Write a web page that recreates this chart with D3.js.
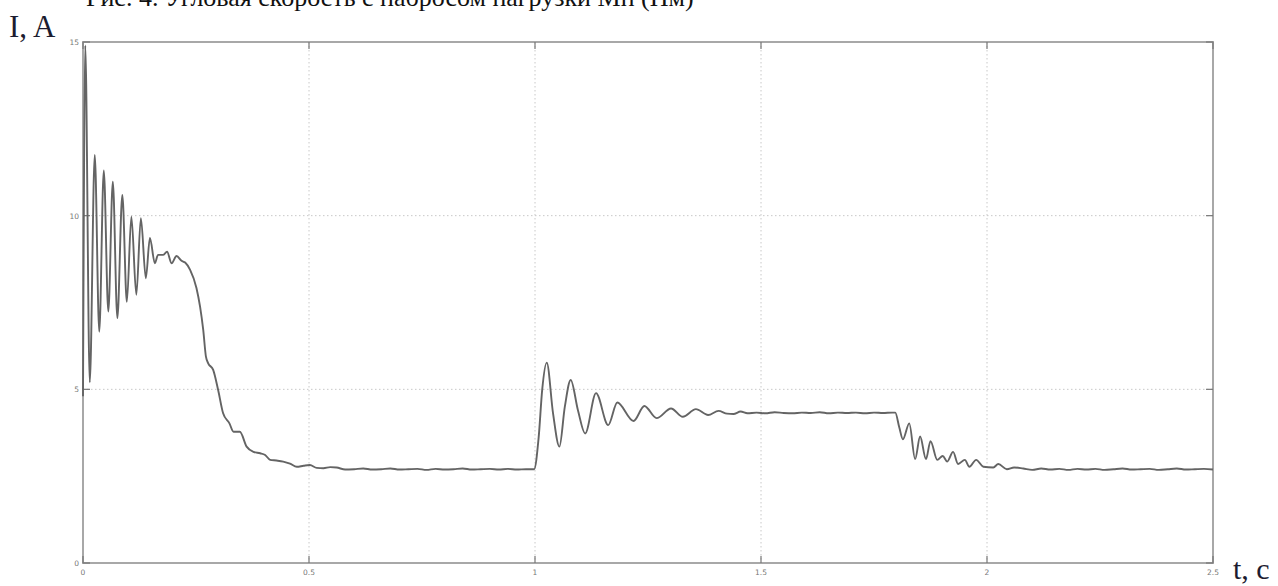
<!DOCTYPE html>
<html>
<head>
<meta charset="utf-8">
<script src="https://cdn.jsdelivr.net/npm/d3@7/dist/d3.min.js"></script>
<style>
  html, body { margin: 0; padding: 0; background: #fff; }
  svg { display: block; }
</style>
</head>
<body>
<svg id="chart" width="1278" height="586"></svg>
<script>
// Motor current transient: start-up, load step at t = 1 s, load release at t ≈ 1.8 s
const time = [
  0.000, 0.005, 0.015, 0.026, 0.036, 0.046, 0.056, 0.066, 0.076, 0.087,
  0.097, 0.107, 0.118, 0.128, 0.139, 0.148, 0.159, 0.166, 0.177, 0.186,
  0.196, 0.207, 0.218, 0.226, 0.237, 0.251, 0.259, 0.266, 0.272, 0.277,
  0.288, 0.299, 0.310, 0.324, 0.333, 0.347, 0.362, 0.377, 0.392, 0.403,
  0.414, 0.428, 0.443, 0.458, 0.473, 0.488, 0.502, 0.517, 0.532, 0.547,
  0.561, 0.580, 0.600, 0.620, 0.640, 0.660, 0.680, 0.700, 0.720, 0.740,
  0.760, 0.780, 0.800, 0.820, 0.840, 0.860, 0.880, 0.900, 0.920, 0.940,
  0.960, 0.980, 0.998, 1.008, 1.016, 1.026, 1.040, 1.054, 1.066, 1.079,
  1.095, 1.111, 1.135, 1.162, 1.182, 1.218, 1.242, 1.269, 1.301, 1.327,
  1.356, 1.383, 1.406, 1.425, 1.439, 1.455, 1.470, 1.490, 1.510, 1.530,
  1.550, 1.570, 1.590, 1.610, 1.630, 1.650, 1.670, 1.690, 1.710, 1.730,
  1.750, 1.770, 1.790, 1.797, 1.806, 1.814, 1.828, 1.841, 1.852, 1.865,
  1.875, 1.890, 1.902, 1.912, 1.925, 1.936, 1.951, 1.961, 1.976, 1.992,
  2.014, 2.025, 2.044, 2.060, 2.080, 2.100, 2.120, 2.140, 2.160, 2.180,
  2.200, 2.220, 2.240, 2.260, 2.280, 2.300, 2.320, 2.340, 2.360, 2.380,
  2.400, 2.420, 2.440, 2.460, 2.480, 2.500
];
const current = [
  4.80, 14.90, 5.20, 11.75, 6.66, 11.30, 7.24, 10.98, 7.05, 10.60,
  7.52, 9.97, 7.72, 9.93, 8.20, 9.36, 8.63, 8.87, 8.87, 8.96,
  8.63, 8.84, 8.70, 8.65, 8.44, 7.92, 7.38, 6.71, 5.94, 5.75,
  5.56, 4.98, 4.31, 4.02, 3.78, 3.78, 3.35, 3.20, 3.16, 3.11,
  2.97, 2.95, 2.92, 2.86, 2.77, 2.80, 2.82, 2.74, 2.73, 2.76,
  2.75, 2.69, 2.70, 2.72, 2.69, 2.70, 2.72, 2.69, 2.70, 2.71,
  2.68, 2.71, 2.69, 2.70, 2.72, 2.69, 2.70, 2.71, 2.69, 2.71,
  2.69, 2.70, 2.70, 3.60, 5.00, 5.77, 4.30, 3.35, 4.50, 5.27,
  4.40, 3.73, 4.89, 3.97, 4.62, 4.09, 4.52, 4.17, 4.45, 4.21,
  4.43, 4.26, 4.38, 4.30, 4.29, 4.36, 4.31, 4.33, 4.31, 4.34,
  4.32, 4.31, 4.33, 4.32, 4.34, 4.31, 4.33, 4.32, 4.33, 4.31,
  4.33, 4.32, 4.33, 4.33, 3.90, 3.56, 4.02, 2.99, 3.64, 2.99,
  3.51, 2.97, 3.08, 2.92, 3.20, 2.85, 2.97, 2.77, 2.97, 2.77,
  2.75, 2.85, 2.70, 2.75, 2.72, 2.68, 2.72, 2.69, 2.71, 2.68,
  2.71, 2.69, 2.71, 2.68, 2.70, 2.72, 2.69, 2.70, 2.71, 2.68,
  2.70, 2.72, 2.69, 2.70, 2.71, 2.69
];
const xTicks = [0, 0.5, 1, 1.5, 2, 2.5];
const xTickLabels = ["0", "0.5", "1", "1.5", "2", "2.5"];
const yTicks = [0, 5, 10, 15];
const yTickLabels = ["0", "5", "10", "15"];
const caption = "Рис. 4. Угловая скорость с набросом нагрузки Мн (Нм)";
const yTitle = "I, A";
const xTitle = "t, c";

const svg = d3.select("#chart");
const plot = { left: 83, top: 42, right: 1213, bottom: 563 };

const x = d3.scaleLinear().domain([0, 2.5]).range([plot.left, plot.right]);
const y = d3.scaleLinear().domain([0, 15]).range([plot.bottom, plot.top]);

const serif = "'Liberation Serif', 'Times New Roman', serif";

// caption of the preceding figure, running off the top edge of the page
svg.append("text")
  .attr("x", 86).attr("y", 6)
  .attr("font-family", serif)
  .attr("font-size", 26)
  .attr("fill", "#111")
  .text(caption);

// dotted grid
const grid = svg.append("g").attr("stroke", "#c8c8c8").attr("stroke-width", 1)
  .attr("stroke-dasharray", "1.5,2.5");
grid.selectAll("line.gx").data(xTicks.filter(d => d > 0 && d < 2.5)).join("line")
  .attr("x1", d => x(d)).attr("x2", d => x(d))
  .attr("y1", plot.top).attr("y2", plot.bottom);
grid.selectAll("line.gy").data(yTicks.filter(d => d > 0 && d < 15)).join("line")
  .attr("x1", plot.left).attr("x2", plot.right)
  .attr("y1", d => y(d)).attr("y2", d => y(d));

// frame
svg.append("rect")
  .attr("x", plot.left).attr("y", plot.top)
  .attr("width", plot.right - plot.left).attr("height", plot.bottom - plot.top)
  .attr("fill", "none").attr("stroke", "#a8a8a8").attr("stroke-width", 2);

// inward tick marks on all four sides
const tickLen = 7;
const ticks = svg.append("g").attr("stroke", "#777").attr("stroke-width", 1.2);
xTicks.forEach(d => {
  ticks.append("line").attr("x1", x(d)).attr("x2", x(d))
    .attr("y1", plot.bottom).attr("y2", plot.bottom - tickLen);
  ticks.append("line").attr("x1", x(d)).attr("x2", x(d))
    .attr("y1", plot.top).attr("y2", plot.top + tickLen);
});
yTicks.forEach(d => {
  ticks.append("line").attr("x1", plot.left).attr("x2", plot.left + tickLen)
    .attr("y1", y(d)).attr("y2", y(d));
  ticks.append("line").attr("x1", plot.right).attr("x2", plot.right - tickLen)
    .attr("y1", y(d)).attr("y2", y(d));
});

// tick labels
const tickFont = "'DejaVu Sans', Arial, sans-serif";
svg.append("g").selectAll("text").data(xTicks).join("text")
  .attr("x", d => x(d)).attr("y", plot.bottom + 12)
  .attr("text-anchor", "middle")
  .attr("font-family", tickFont).attr("font-size", 7.5).attr("fill", "#777")
  .text((d, i) => xTickLabels[i]);
svg.append("g").selectAll("text").data(yTicks).join("text")
  .attr("x", plot.left - 4).attr("y", d => y(d) + 3)
  .attr("text-anchor", "end")
  .attr("font-family", tickFont).attr("font-size", 7.5).attr("fill", "#777")
  .text((d, i) => yTickLabels[i]);

// axis titles
svg.append("text")
  .attr("x", 9).attr("y", 37)
  .attr("font-family", serif)
  .attr("font-size", 31).attr("fill", "#1c1c30")
  .text(yTitle);
svg.append("text")
  .attr("x", 1233).attr("y", 579)
  .attr("font-family", serif)
  .attr("font-size", 30).attr("fill", "#1c1c30")
  .text(xTitle);

// current curve
const points = time.map((t, i) => [t, current[i]]);
const line = d3.line()
  .x(d => x(d[0])).y(d => y(d[1]))
  .curve(d3.curveMonotoneX);
svg.append("path")
  .datum(points)
  .attr("fill", "none")
  .attr("stroke", "#646464")
  .attr("stroke-width", 1.9)
  .attr("stroke-linejoin", "round")
  .attr("d", line);
</script>
</body>
</html>
